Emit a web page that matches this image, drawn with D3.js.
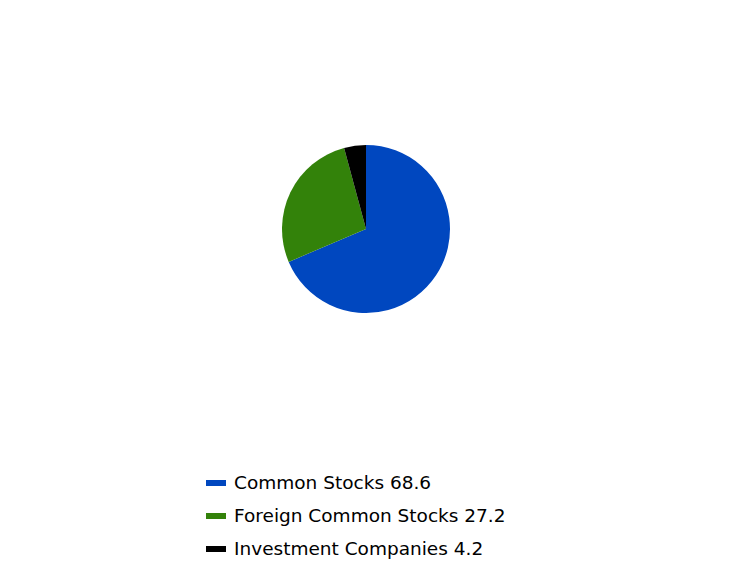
<!doctype html>
<html lang="en">
<head>
<meta charset="utf-8">
<script src="https://cdn.jsdelivr.net/npm/d3@7"></script>
<style>
body { margin: 0; background: #fff; }
svg text { font-family: "DejaVu Sans", sans-serif; font-size: 18.5px; fill: #000; }
</style>
</head>
<body>
<svg width="732" height="564"></svg>
<script>
// Portfolio allocation (%)
var categories = ['Common Stocks', 'Foreign Common Stocks', 'Investment Companies'];
var values = [68.6, 27.2, 4.2];
var colors = ['#0047bf', '#33820a', '#000000'];

var svg = d3.select('svg');

var pie = d3.pie().sort(null).value(function(d) { return d; });
var arc = d3.arc().innerRadius(0).outerRadius(84);

var g = svg.append('g').attr('transform', 'translate(366,229)');
g.selectAll('path')
    .data(pie(values))
    .enter().append('path')
    .attr('d', arc)
    .attr('fill', function(d, i) { return colors[i]; });

// legend
var legend = svg.append('g').attr('transform', 'translate(206,483)');
var rows = legend.selectAll('g')
    .data(categories)
    .enter().append('g')
    .attr('transform', function(d, i) { return 'translate(0,' + (i * 33) + ')'; });

rows.append('rect')
    .attr('x', 0).attr('y', -3)
    .attr('width', 20).attr('height', 6)
    .attr('fill', function(d, i) { return colors[i]; });

rows.append('text')
    .attr('x', 28)
    .attr('dy', '0.35em')
    .text(function(d, i) { return d + ' ' + values[i]; });
</script>
</body>
</html>
